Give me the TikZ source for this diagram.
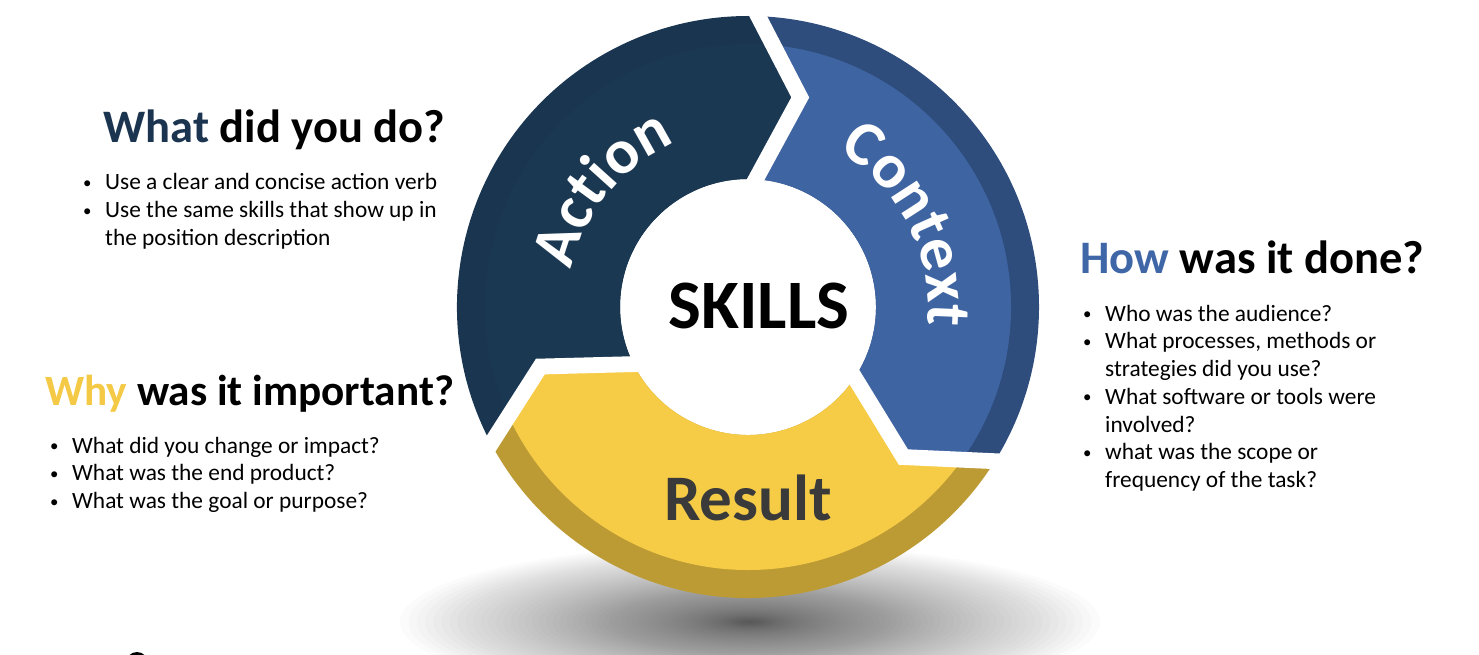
\documentclass[tikz,border=0pt]{standalone}
\usepackage{fontspec}
\setmainfont{Carlito}
\usetikzlibrary{calc,decorations.text}

\definecolor{actionface}{HTML}{1B3852}
\definecolor{actionrim}{HTML}{1A3550}
\definecolor{contextface}{HTML}{3E64A2}
\definecolor{contextrim}{HTML}{2E4D7D}
\definecolor{resultface}{HTML}{F6CC46}
\definecolor{resultrim}{HTML}{BD9B34}
\definecolor{whatnavy}{HTML}{1B3550}
\definecolor{howblue}{HTML}{3F66A6}
\definecolor{whyyellow}{HTML}{F4C946}
\definecolor{resultgrey}{HTML}{3A3A3A}

\newcommand{\bitem}{\makebox[13pt][l]{\hspace{0.5pt}\raisebox{0.12ex}{\scalebox{0.72}{\textbullet}}}}

\begin{document}
\begin{tikzpicture}[x=0.02cm, y=0.02cm, line join=round, line cap=round,
	heading/.style={anchor=base west, inner sep=0pt, font=\fontsize{26.5}{30}\selectfont\bfseries},
	bullets/.style={anchor=base west, inner sep=0pt, font=\fontsize{13.3}{15.8}\selectfont},
	sector/.style n args={4}{insert path={(o#1) arc[start angle=#2, end angle=#4, radius=\Ro]
		-- (t#3) -- (i#3) arc[start angle=#4-1.5, end angle=#2-1.5, radius=\Ri] -- (t#1) -- cycle}}]
	
	\useasboundingbox (0,0) rectangle (1479,-655);
	
	% Soft shadow below the ring
	\foreach \k in {0,...,69}
		\fill[black, opacity=0.016] (750,-622) ellipse ({350*(1-\k/70)^1.7} and {78*(1-\k/70)^1.7});
	
	% Ring of three arrows
	\begin{scope}[shift={(748,-307)}]
		\def\Ro{291} % outer radius
		\def\Rf{263} % radius of the top face
		\def\Ri{128} % inner radius
		\def\Rt{216} % radius of the arrow tips
		\foreach \n/\a in {a/88, b/-32, c/-152}{
			\coordinate (o\n) at (\a:\Ro);
			\coordinate (t\n) at (\a-12:\Rt);
			\coordinate (i\n) at (\a-1.5:\Ri);
		}
		
		% Rim (side of the ring)
		\fill[actionrim, sector={c}{208}{a}{88}];
		\fill[contextrim, sector={a}{88}{b}{-32}];
		\fill[resultrim, sector={b}{-32}{c}{-152}];
		
		% Top face
		\begin{scope}
			\clip (0,0) circle (\Rf);
			\fill[actionface, sector={c}{208}{a}{88}];
			\fill[contextface, sector={a}{88}{b}{-32}];
			\fill[resultface, sector={b}{-32}{c}{-152}];
		\end{scope}
		
		% White gaps between the arrows
		\foreach \n in {a,b,c}
			\draw[white, line width=9pt, line join=miter] ($(t\n)!1.15!(o\n)$) -- (t\n) -- ($(t\n)!1.2!(i\n)$);
		
		% Labels on the ring
		\path[decorate, decoration={text along path, text align=center,
			text={|\fontsize{36}{40}\selectfont\bfseries\color{white}|Action}}]
			(186:180) arc[start angle=186, end angle=96, radius=180];
		\path[decorate, decoration={text along path, text align=center,
			text={|\fontsize{36}{40}\selectfont\bfseries\color{white}|Context}}]
			(72:180) arc[start angle=72, end angle=-18, radius=180];
	\end{scope}
	
	\node[anchor=base, inner sep=0pt, font=\fontsize{39.5}{44}\selectfont\bfseries] (skills) at (759,-328) {SKILLS};
	\node[anchor=base, inner sep=0pt, text=resultgrey, font=\fontsize{37}{42}\selectfont\bfseries] (result) at (748,-520) {Result};
	
	% What did you do?
	\node[heading] (what) at (103,-143) {{\color{whatnavy}What} did you do?};
	\node[bullets] (whatlist) at (82,-190) {\begin{tabular}[t]{@{}l@{}l@{}}
			\bitem & Use a clear and concise action verb\\
			\bitem & Use the same skills that show up in\\
			& the position description
		\end{tabular}};
	
	% Why was it important?
	\node[heading, font=\fontsize{24.6}{28}\selectfont\bfseries] (why) at (45,-405) {{\color{whyyellow}Why} was it important?};
	\node[bullets] (whylist) at (49,-453) {\begin{tabular}[t]{@{}l@{}l@{}}
			\bitem & What did you change or impact?\\
			\bitem & What was the end product?\\
			\bitem & What was the goal or purpose?
		\end{tabular}};
	
	% How was it done?
	\node[heading] (how) at (1080,-273) {{\color{howblue}How} was it done?};
	\node[bullets] (howlist) at (1082,-321) {\begin{tabular}[t]{@{}l@{}l@{}}
			\bitem & Who was the audience?\\
			\bitem & What processes, methods or\\
			& strategies did you use?\\
			\bitem & What software or tools were\\
			& involved?\\
			\bitem & what was the scope or\\
			& frequency of the task?
		\end{tabular}};
	
	% Small mark at the lower edge
	\fill (137,-663) circle (11);
	
\end{tikzpicture}
\end{document}
